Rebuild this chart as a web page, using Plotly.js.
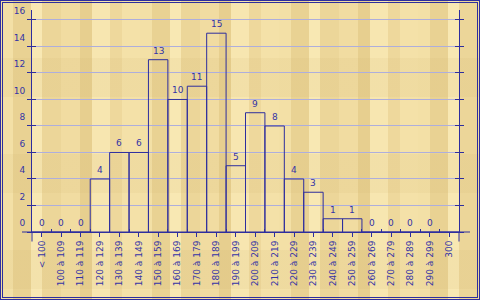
<!DOCTYPE html>
<html>
<head>
<meta charset="utf-8">
<script src="https://cdn.plot.ly/plotly-3.0.1.min.js"></script>
<style>
  html, body { margin: 0; padding: 0; }
  #wrap {
    position: relative; width: 480px; height: 300px; box-sizing: border-box;
    border: 1px solid #2e2e9e;
    background:
      repeating-linear-gradient(180deg, rgba(255,255,255,0) 0px, rgba(255,255,255,0) 57px, rgba(200,170,100,0.10) 57px, rgba(200,170,100,0.10) 96px),
      repeating-linear-gradient(90deg,
        #f3e0a6 0px, #f3e0a6 12px,
        #e9d293 12px, #e9d293 30px,
        #f8e8b3 30px, #f8e8b3 41px,
        #ecd699 41px, #ecd699 60px,
        #f1dca1 60px, #f1dca1 79px,
        #e7cf8f 79px, #e7cf8f 91px,
        #f7e6b0 91px, #f7e6b0 109px,
        #eed89c 109px, #eed89c 121px,
        #f4e1a8 121px, #f4e1a8 139px);
  }
  #inner {
    position: absolute; left: 1px; top: 1px; right: 1px; bottom: 1px;
    border: 1px solid #2e2e9e; box-sizing: border-box;
  }
  #chart { position: absolute; left: -1px; top: -1px; width: 480px; height: 300px; }
</style>
</head>
<body>
<div id="wrap"><div id="inner"></div><div id="chart"></div></div>
<script>
const categories = ['< 100', '100 à 109', '110 à 119', '120 à 129', '130 à 139', '140 à 149',
  '150 à 159', '160 à 169', '170 à 179', '180 à 189', '190 à 199', '200 à 209', '210 à 219',
  '220 à 229', '230 à 239', '240 à 249', '250 à 259', '260 à 269', '270 à 279', '280 à 289',
  '290 à 299', '300'];
const counts = [0, 0, 0, 4, 6, 6, 13, 10, 11, 15, 5, 9, 8, 4, 3, 1, 1, 0, 0, 0, 0, 0];
const yTickValues = [0, 2, 4, 6, 8, 10, 12, 14, 16];
const yTickLabels = ['0', '2', '4', '6', '8', '10', '12', '14', '16'];

const navy = '#2e2e9e';
const textColor = '#3434a6';
const gridColor = '#aeaedc';
const xRange = [-0.5, categories.length - 0.5];
const yRange = [0, 16.75];

const traces = [
  {
    type: 'bar', x: categories, y: counts,
    marker: { color: 'rgba(0,0,0,0)', line: { color: navy, width: 1 } },
    hoverinfo: 'skip'
  },
  { type: 'scatter', x: categories, y: counts, xaxis: 'x2', yaxis: 'y', mode: 'none', hoverinfo: 'skip' },
  { type: 'scatter', x: categories, y: counts, xaxis: 'x', yaxis: 'y2', mode: 'none', hoverinfo: 'skip' }
];

const annotations = categories.map((c, i) => ({
  x: c, y: counts[i], xref: 'x', yref: 'y', text: String(counts[i]),
  showarrow: false, yanchor: 'middle', xanchor: 'center', yshift: 9,
  font: { family: 'DejaVu Sans', size: 9, color: textColor }
}));

const W = 427, H = 222;
const shapes = [
  { type: 'line', xref: 'paper', yref: 'paper', x0: -10 / W, x1: 0, y0: 0, y1: 0, line: { color: navy, width: 1 } },
  { type: 'line', xref: 'paper', yref: 'paper', x0: 1, x1: 1 + 11 / W, y0: 0, y1: 0, line: { color: navy, width: 1 } },
  { type: 'line', xref: 'paper', yref: 'paper', x0: 0, x1: 0, y0: -9.5 / H, y1: 0, line: { color: navy, width: 1 } },
  { type: 'line', xref: 'paper', yref: 'paper', x0: 1, x1: 1, y0: -9.5 / H, y1: 0, line: { color: navy, width: 1 } }
];

const layout = {
  width: 480, height: 300,
  margin: { l: 32, r: 21, t: 10, b: 68, pad: 0 },
  paper_bgcolor: 'rgba(0,0,0,0)', plot_bgcolor: 'rgba(0,0,0,0)',
  showlegend: false, bargap: 0,
  font: { family: 'DejaVu Sans', size: 9, color: textColor },
  xaxis: {
    type: 'category', categoryorder: 'array', categoryarray: categories, range: xRange,
    tickangle: -90, ticks: 'outside', ticklen: 4, tickcolor: navy, tickwidth: 1,
    showgrid: false, zeroline: false, showline: true, linecolor: navy, linewidth: 1,
    tickfont: { family: 'DejaVu Sans', size: 9, color: textColor }, fixedrange: true
  },
  xaxis2: {
    type: 'category', categoryorder: 'array', categoryarray: categories, range: xRange,
    overlaying: 'x', anchor: 'y', tickson: 'boundaries', ticks: 'inside', ticklen: 3,
    tickcolor: navy, showticklabels: false, showgrid: false, zeroline: false, showline: false,
    fixedrange: true
  },
  yaxis: {
    range: yRange, tickmode: 'array', tickvals: yTickValues, ticktext: yTickLabels,
    ticks: 'outside', ticklen: 4, tickcolor: navy, mirror: 'ticks',
    showline: true, linecolor: navy, linewidth: 1,
    showgrid: true, gridcolor: gridColor, gridwidth: 1, zeroline: false,
    ticklabelshift: -9,
    tickfont: { family: 'DejaVu Sans', size: 9, color: textColor }, fixedrange: true
  },
  yaxis2: {
    range: yRange, tickmode: 'array', tickvals: yTickValues,
    overlaying: 'y', anchor: 'x', ticks: 'inside', ticklen: 4, tickcolor: navy, mirror: 'ticks',
    showticklabels: false, showgrid: false, zeroline: false, showline: false, fixedrange: true
  },
  annotations: annotations,
  shapes: shapes
};

Plotly.newPlot('chart', traces, layout, { displayModeBar: false, staticPlot: true });
</script>
</body>
</html>
